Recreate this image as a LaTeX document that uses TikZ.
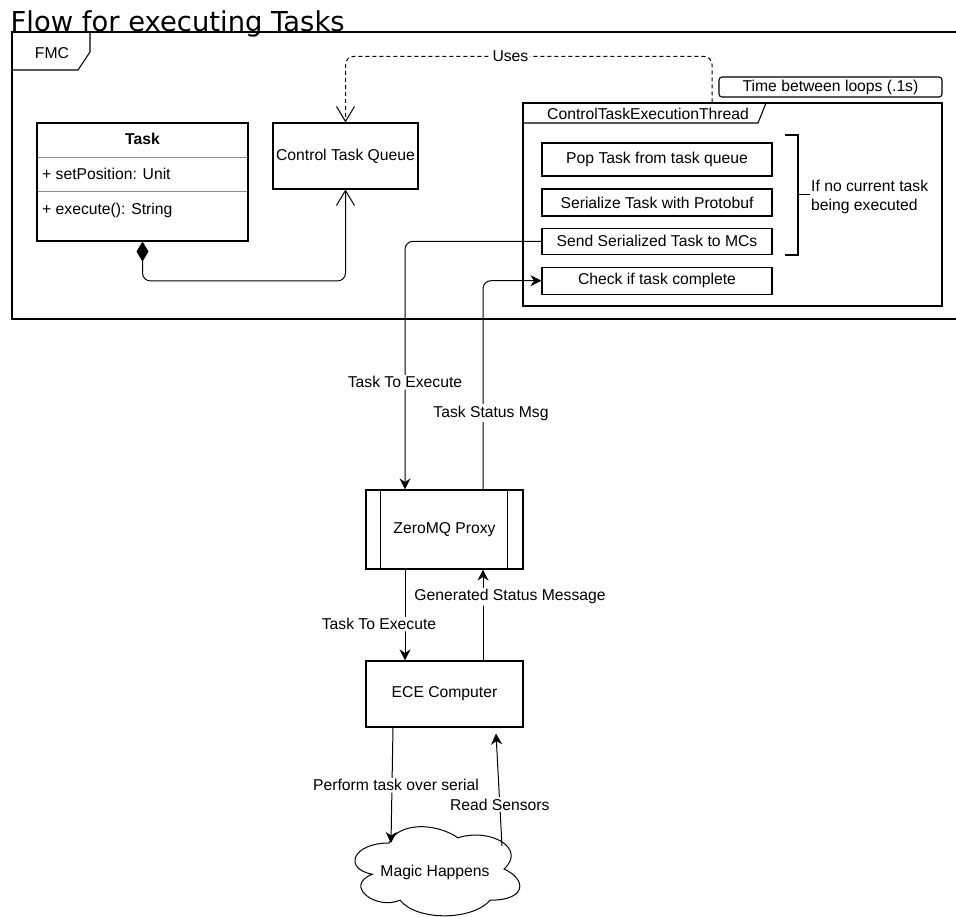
\documentclass[tikz,border=0pt]{standalone}
\usepackage{fontspec}
\setmainfont{Liberation Sans}
\newfontfamily\titlefont{DejaVu Sans}
\usetikzlibrary{arrows.meta,calc}
\begin{document}
\begin{tikzpicture}[x=1pt,y=-1pt,
  every node/.style={font=\fontsize{15.7}{19}\selectfont, inner sep=0pt},
  box/.style={draw, line width=1.1pt, fill=white},
  conn/.style={line width=1pt, rounded corners=8pt},
  filled/.style={-{Stealth[length=11pt,width=11pt,inset=3.5pt]}},
  openv/.style={-{Straight Barb[length=15pt,width=18pt]}},
  lbl/.style={fill=white, inner sep=1.5pt},
  divider/.style={line width=0.6pt, draw=black!45}]
\useasboundingbox (0,0) rectangle (956,917);
\fill[white] (0,0) rectangle (956,917);

% title
\node[anchor=base west, font=\titlefont\fontsize{27.4}{30}\selectfont] (title) at (10.5,31.5) {Flow for executing Tasks};

% FMC frame
\draw[line width=1.1pt] (12,32) rectangle (962,319);
\draw[line width=1.1pt] (12,70) -- (78,70) -- (90,52) -- (90,32);
\node (fmc) at (52,53) {FMC};

% Task class
\node[box, minimum width=211pt, minimum height=118pt] (task) at (142.5,182) {};
\draw[divider] (37.6,157) -- (247.4,157);
\draw[divider] (37.6,191) -- (247.4,191);
\node[font=\fontsize{15.7}{19}\selectfont\bfseries] (tasktitle) at (142.5,139) {Task};
\node[anchor=west] (attr) at (42,174) {+ setPosition: Unit};
\node[anchor=west] (meth) at (42,210) {+ execute(): String};

% Control Task Queue
\node[box, minimum width=145pt, minimum height=66pt] (ctq) at (345.5,156) {Control Task Queue};

% ControlTaskExecutionThread frame
\node[box, minimum width=419pt, minimum height=203pt] (ctet) at (732.5,204.5) {};
\draw[line width=1.1pt] (523,123) -- (758,123) -- (766,103);
\node (ctetlabel) at (648,114) {ControlTaskExecutionThread};

% Time between loops
\node[box, rounded corners=3pt, minimum width=223pt, minimum height=20pt] (time) at (830.5,87) {Time between loops (.1s)};

% steps
\node[box, minimum width=230pt, minimum height=33pt] (pop) at (657,159.5) {Pop Task from task queue};
\node[box, minimum width=230pt, minimum height=27pt] (ser) at (657,202.5) {Serialize Task with Protobuf};
\node[box, minimum width=230pt, minimum height=26pt] (send) at (657,241.3) {Send Serialized Task to MCs};
\node[box, minimum width=230pt, minimum height=27pt] (check) at (657,280.7) {Check if task complete};

% bracket
\draw[line width=1.8pt] (785,135) -- (798,135) -- (798,255) -- (785,255);
\draw[line width=1pt] (798,195) -- (810,195);
\node[anchor=west, align=left] (cond) at (811,197) {If no current task\\being executed};

% ZeroMQ proxy
\node[box, minimum width=157pt, minimum height=79pt] (zmq) at (444.5,529.5) {ZeroMQ Proxy};
\draw[line width=1.1pt] ($(zmq.north west)+(15,0)$) -- ($(zmq.south west)+(15,0)$);
\draw[line width=1.1pt] ($(zmq.north east)+(-16,0)$) -- ($(zmq.south east)+(-16,0)$);

% ECE computer
\node[box, minimum width=157pt, minimum height=66pt] (ece) at (444.5,694) {ECE Computer};

% cloud
\draw[line width=1pt, fill=white] (389,843)
  .. controls (352.2,843) and (343,869) .. (372.4,874.2)
  .. controls (343,885.6) and (376.1,910.6) .. (400,900.2)
  .. controls (416.6,921) and (471.8,921) .. (490.2,900.2)
  .. controls (527,900.2) and (527,879.4) .. (504,869)
  .. controls (527,848.2) and (490.2,827.4) .. (458,837.8)
  .. controls (435,822.2) and (398.2,822.2) .. (389,843) -- cycle;
\node (magic) at (435,872) {Magic Happens};
\coordinate (cloudin) at (391,843);
\coordinate (cloudout) at (502,846);

% connectors
\draw[conn, {Diamond[length=20pt,width=12pt]}-{Straight Barb[length=15pt,width=18pt]}]
  (task.south) -- (142.5,281) -| (ctq.south);
\draw[conn, openv, dash pattern=on 4pt off 3pt]
  ([xshift=-20.5pt]ctet.north) -- ++(0,-46) -- node[lbl, pos=0.55] (uses) {Uses} ++(-366.5,0) -- (ctq.north);
\draw[conn, filled] (send.west) -| node[lbl, pos=0.784] (tte1) {Task To Execute} ([xshift=-39.5pt]zmq.north);
\draw[conn, filled] ([xshift=38.5pt]zmq.north) |- node[lbl, pos=0.183, xshift=8pt] (tsm) {Task Status Msg} (check.west);
\draw[conn, filled] ([xshift=-39.5pt]zmq.south) -- node[lbl, pos=0.6, xshift=-26pt] (tte2) {Task To Execute} ([xshift=-39.5pt]ece.north);
\draw[conn, filled] ([xshift=38.5pt]ece.north) -- node[lbl, pos=0.7, xshift=27pt] (gsm) {Generated Status Message} ([xshift=38.5pt]zmq.south);
\draw[conn, filled] ([xshift=-51.5pt]ece.south) -- node[lbl, pos=0.5, xshift=4pt] (perf) {Perform task over serial} (cloudin);
\draw[conn, filled] (cloudout) -- node[lbl, pos=0.37] (rs) {Read Sensors} ([shift={(51.5pt,-6pt)}]ece.south);
\end{tikzpicture}
\end{document}
